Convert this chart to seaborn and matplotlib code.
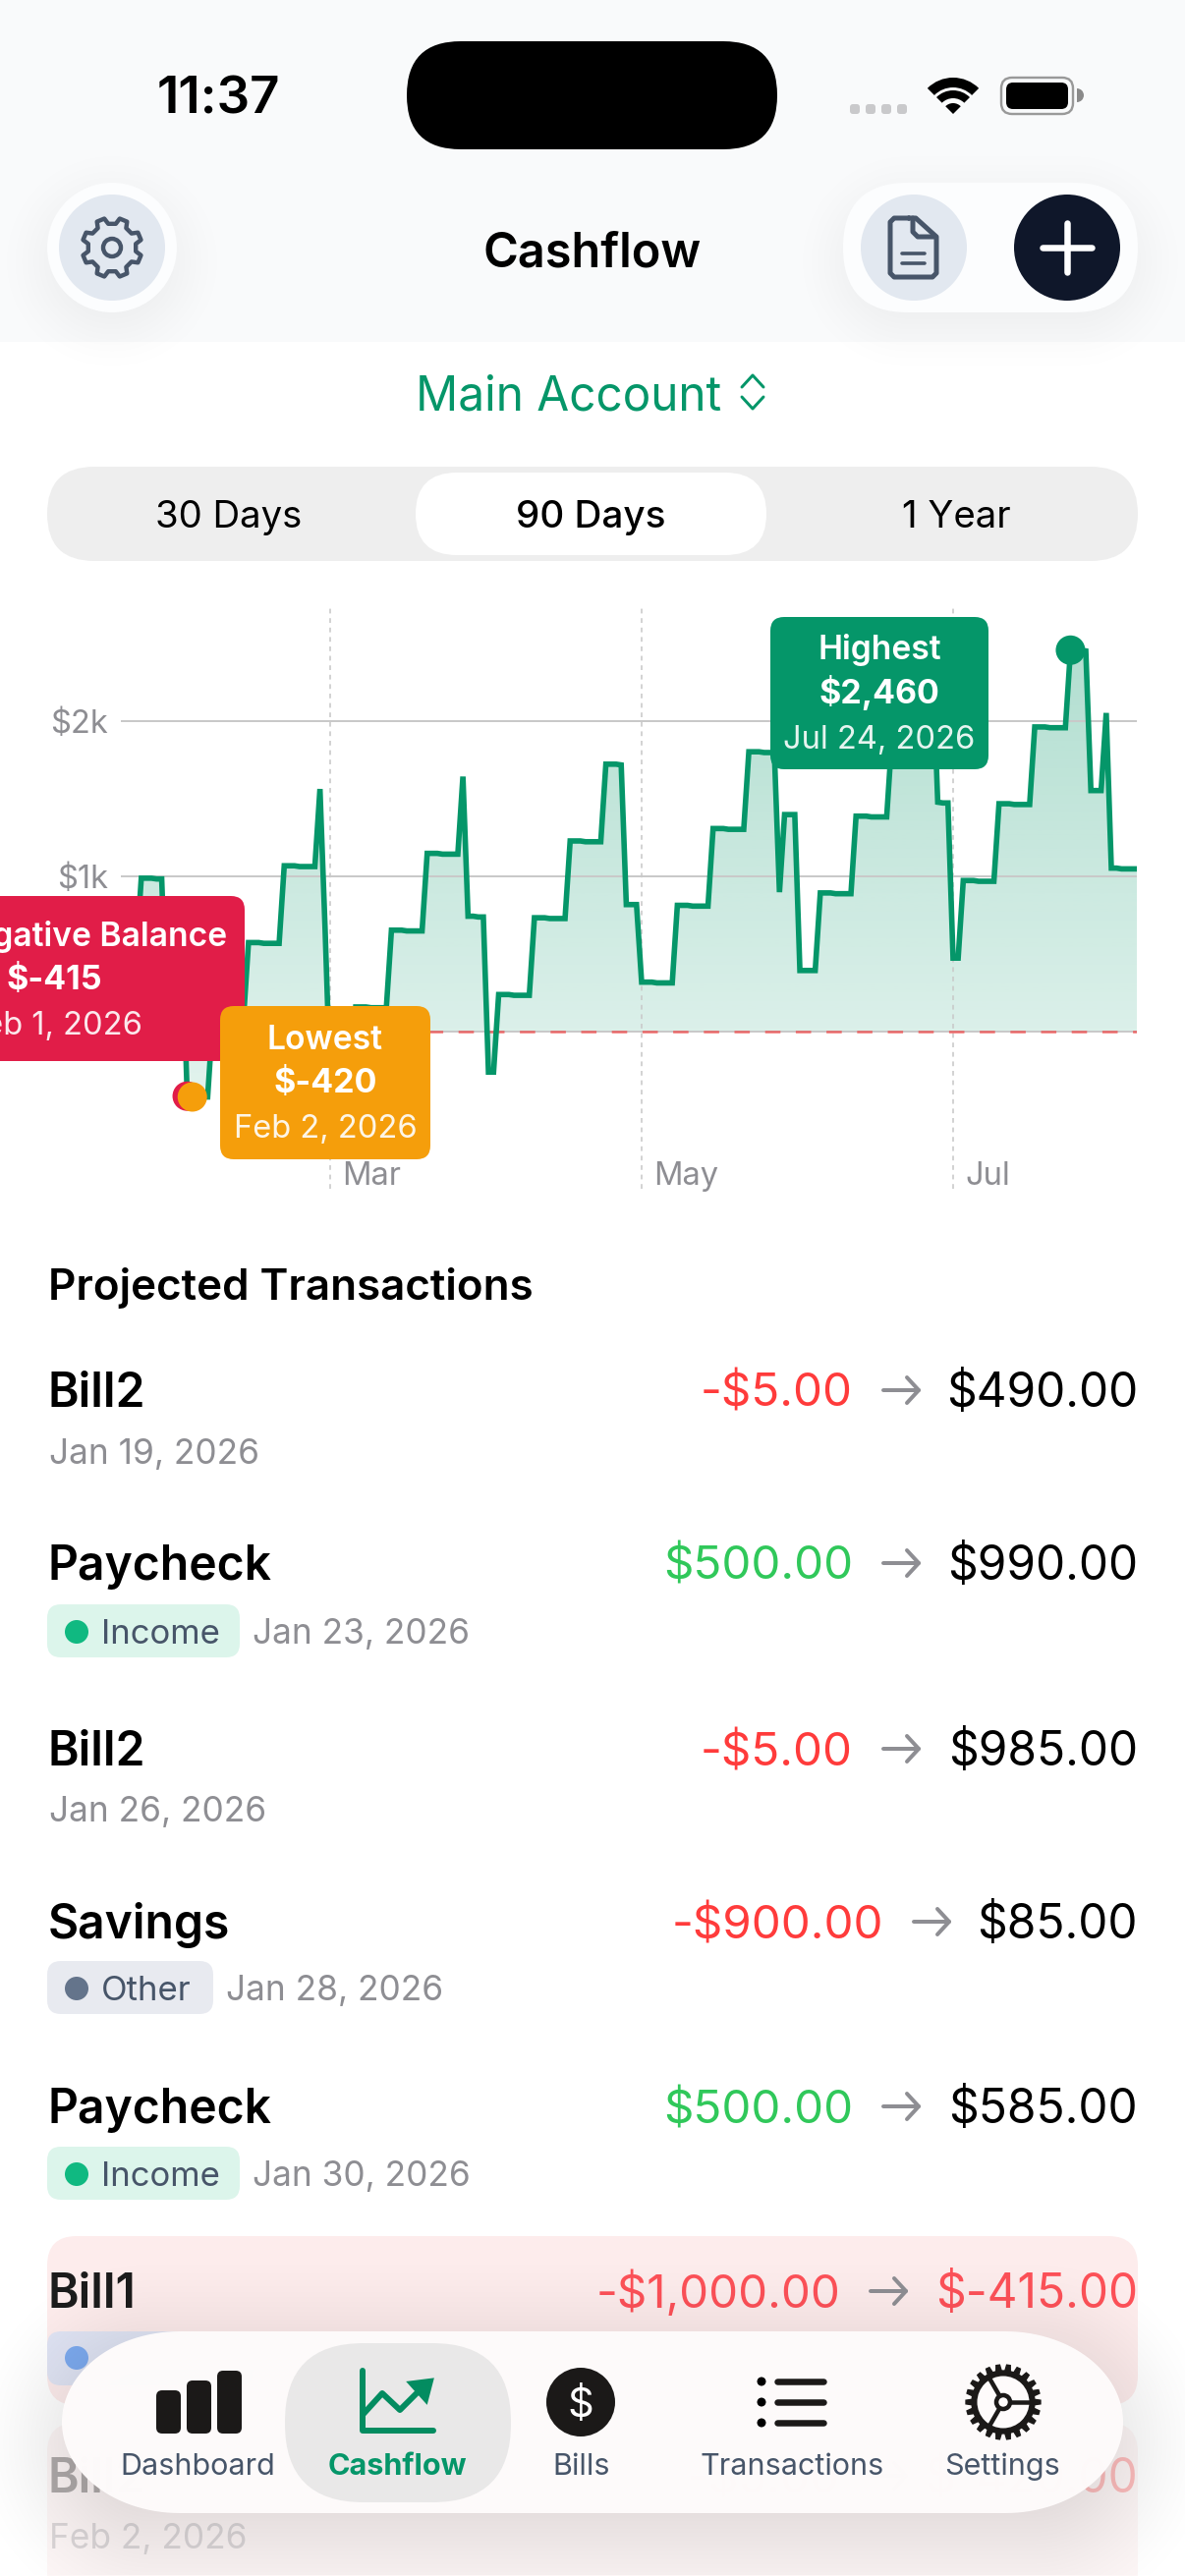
import numpy as np
import pandas as pd
import seaborn as sns
import matplotlib
matplotlib.use('Agg')
import matplotlib.pyplot as plt
import matplotlib.dates as mdates
from matplotlib.patches import FancyBboxPatch, Circle, Polygon, Wedge
from matplotlib.transforms import ScaledTranslation

# ---- chart data (one value per day from Jan 19) ----
start_date = '2026-01-19'
balance_jan = [490, 490, 490, 490, 990, 990, 990, 985, 985, 85, 85, 585, 585]
balance_feb = [-415, -420, -420, -420, -420, 80, 80, 80, 75, 75, 75, 75, 575, 575, 575,
               570, 570, 570, 570, 1070, 1070, 1070, 1065, 1065, 1065, 1065, 1565, 665]
balance_mar = [-335, -340, -340, -340, -340, 160, 160, 160, 155, 155, 155, 155, 655, 655, 655,
               650, 650, 650, 650, 1150, 1150, 1150, 1145, 1145, 1145, 1145, 1645, 745, 745, 740, 740]
balance_apr = [-260, -260, 240, 240, 240, 235, 235, 235, 235, 735, 735, 735, 730, 730, 730,
               730, 1230, 1230, 1230, 1225, 1225, 1225, 1225, 1725, 1725, 1725, 1720, 820, 820, 820]
balance_may = [320, 320, 320, 315, 315, 315, 315, 815, 815, 815, 810, 810, 810, 810, 1310,
               1310, 1310, 1305, 1305, 1305, 1305, 1805, 1805, 1805, 1800, 1800, 1800, 900, 1400, 1400, 1400]
balance_jun = [395, 395, 395, 395, 895, 895, 895, 890, 890, 890, 890, 1390, 1390, 1390, 1385,
               1385, 1385, 1385, 1885, 1885, 1885, 1880, 1880, 1880, 1880, 2380, 2380, 1480, 1475, 1475]
balance_jul = [475, 475, 975, 975, 975, 970, 970, 970, 970, 1470, 1470, 1470, 1465, 1465, 1465,
               1465, 1965, 1965, 1965, 1960, 1960, 1960, 1960, 2460, 2460, 2460, 2455, 1555, 1555, 1555, 2055]
balance_aug = [1055, 1055, 1050, 1050, 1050, 1050]

y_ticks = [0, 1000, 2000]
y_labels = ['$0', '$1k', '$2k']
month_ticks = ['2026-03-01', '2026-05-01', '2026-07-01']
month_labels = ['Mar', 'May', 'Jul']
marker_dates = ['2026-02-01', '2026-02-02', '2026-07-24']
marker_colors = ['#e11d48', '#f59e0b', '#059669']

# ---- the list under the chart ----
row_names = ['Bill2', 'Paycheck', 'Bill2', 'Savings', 'Paycheck', 'Bill1', 'Bill2']
row_dates = ['Jan 19, 2026', 'Jan 23, 2026', 'Jan 26, 2026', 'Jan 28, 2026', 'Jan 30, 2026', 'Feb 1, 2026', 'Feb 2, 2026']
row_amounts = ['-$5.00', '$500.00', '-$5.00', '-$900.00', '$500.00', '-$1,000.00', '-$5.00']
row_balances = ['$490.00', '$990.00', '$985.00', '$85.00', '$585.00', '$-415.00', '$-420.00']
row_tags = [None, 'Income', None, 'Other', 'Income', None, None]
tab_labels = ['Dashboard', 'Cashflow', 'Bills', 'Transactions', 'Settings']

sns.set_theme(style='white')
plt.rcParams['font.family'] = ['Inter', 'DejaVu Sans']

W, H = 1206, 2622
PX = 0.72  # one pixel in points at dpi 100
GREEN = '#059669'
GRAY = '#8e8e93'
SLATE = '#475569'
INK = '#1b1918'

fig = plt.figure(figsize=(W / 100, H / 100), dpi=100, facecolor='white')

# ---- chart ------------------------------------------------------------------
values = balance_jan + balance_feb + balance_mar + balance_apr + balance_may + balance_jun + balance_jul + balance_aug
df = pd.DataFrame({'date': pd.date_range(start_date, periods=len(values), freq='D'), 'balance': values})

chart_top, chart_bottom, zero_y, per_k = 616, 1210, 1050.2, 157.9
ax = fig.add_axes([123 / W, 1 - chart_bottom / H, (1157 - 123) / W, (chart_bottom - chart_top) / H], zorder=1)
ax.patch.set_alpha(0)
y_max = (zero_y - chart_top) / per_k * 1000
y_min = (zero_y - chart_bottom) / per_k * 1000

sns.lineplot(data=df, x='date', y='balance', ax=ax, color=GREEN, lw=5.6 * PX, zorder=4,
             solid_joinstyle='miter', solid_capstyle='butt', estimator=None, errorbar=None)

# area under the line, fades downwards
x_num = mdates.date2num(df['date'])
area = ax.fill_between(df['date'], 0, df['balance'], facecolor='none', edgecolor='none')
grad = np.zeros((256, 1, 4))
grad[:, 0, :3] = matplotlib.colors.to_rgb(GREEN)
grad[:, 0, 3] = np.linspace(0.115, 0.31, 256)
im = ax.imshow(grad, extent=[x_num[0], x_num[-1], -420, 2460], origin='lower', aspect='auto', zorder=1)
im.set_clip_path(area.get_paths()[0], transform=ax.transData)

# min / max / first negative dots
marks = df[df['date'].isin(pd.to_datetime(marker_dates))]
sns.scatterplot(data=marks, x='date', y='balance', hue='date', palette=marker_colors, s=(30 * PX) ** 2,
                linewidth=0, ax=ax, legend=False, zorder=5, clip_on=False)

ax.set_xlim(x_num[0], x_num[-1])
ax.set_ylim(y_min, y_max)
ax.set_yticks(y_ticks, y_labels)
ax.set_xticks(mdates.date2num(pd.to_datetime(month_ticks)), month_labels)
ax.set_xlabel('')
ax.set_ylabel('')
ax.tick_params(axis='y', length=0, pad=13 * PX, labelsize=23.5, labelcolor=GRAY)
ax.tick_params(axis='x', length=0, pad=-28 * PX, labelsize=23.5, labelcolor=GRAY)
for lab in ax.get_xticklabels():
    lab.set_ha('left')
    lab.set_transform(lab.get_transform() + ScaledTranslation(12 / 100, 0, fig.dpi_scale_trans))
ax.grid(axis='y', color='#c9c9c9', lw=2 * PX, zorder=2)
ax.grid(axis='x', color='#c9c9c9', lw=1.6 * PX, ls=(0, (3, 3)), zorder=2)
ax.set_axisbelow(False)
ax.axhline(0, color='#ef4444', alpha=0.72, lw=2.6 * PX, ls=(0, (6, 6)), zorder=3)
sns.despine(ax=ax, left=True, bottom=True)

# ---- everything else is drawn in screen pixels ------------------------------
ui = fig.add_axes([0, 0, 1, 1], zorder=2)
ui.patch.set_alpha(0)
ui.set_axis_off()


def rrect(x0, y0, x1, y1, r, fc, alpha=1, z=2, ec='none', lw=0):
    p = FancyBboxPatch((x0, y0), x1 - x0, y1 - y0, boxstyle=f'round,pad=0,rounding_size={r}',
                       fc=fc, ec=ec, lw=lw, alpha=alpha, zorder=z)
    ui.add_patch(p)
    return p


def pill(x0, y0, x1, y1, rx, fc, alpha=1, z=2):
    # the tab bar corners are longer than they are tall, so elliptical ends
    ry = (y1 - y0) / 2
    t = np.linspace(-np.pi / 2, np.pi / 2, 60)
    right = np.column_stack([x1 - rx + rx * np.cos(t), (y0 + y1) / 2 + ry * np.sin(t)])
    left = np.column_stack([x0 + rx - rx * np.cos(t), (y0 + y1) / 2 - ry * np.sin(t)])
    ui.add_patch(Polygon(np.vstack([right, left]), closed=True, fc=fc, ec='none', alpha=alpha, zorder=z))


def shadow(x0, y0, x1, y1, r, blur, alpha, dy=0, z=1):
    pad = int(blur * 1.5)
    xs = np.arange(x0 - pad, x1 + pad)
    ys = np.arange(y0 - pad + dy, min(y1 + pad + dy, H))
    X, Y = np.meshgrid(xs, ys)
    cx, cy = (x0 + x1) / 2, (y0 + y1) / 2 + dy
    qx = np.abs(X - cx) - (x1 - x0) / 2 + r
    qy = np.abs(Y - cy) - (y1 - y0) / 2 + r
    d = np.hypot(np.maximum(qx, 0), np.maximum(qy, 0)) + np.minimum(np.maximum(qx, qy), 0) - r
    s = np.clip((d + blur) / (2 * blur), 0, 1)
    img = np.zeros(X.shape + (4,))
    img[..., 3] = alpha * (1 - s * s * (3 - 2 * s))
    ui.imshow(img, extent=(xs[0], xs[-1], ys[-1], ys[0]), origin='upper', aspect='auto', zorder=z)


def txt(x, y, s, size, color='black', weight='normal', ha='left', alpha=1, z=5):
    ui.text(x, y, s, fontsize=size, color=color, fontweight=weight, ha=ha, va='baseline', alpha=alpha, zorder=z)


def stroke(xs, ys, color, w, z=5, alpha=1):
    ui.plot(xs, ys, color=color, lw=w * PX, solid_capstyle='round', solid_joinstyle='round', zorder=z, alpha=alpha)


def circle(x, y, r, fc, z=5, ec='none', lw=0):
    ui.add_patch(Circle((x, y), r, fc=fc, ec=ec, lw=lw * PX, zorder=z))


def cog(x, y, r_out, r_in, teeth, rot=0.0):
    pts = []
    for i in range(teeth):
        a = 2 * np.pi * i / teeth + rot
        st = 2 * np.pi / teeth
        for off, rad in [(-0.30, r_in), (-0.17, r_out), (0.17, r_out), (0.30, r_in)]:
            pts.append((x + rad * np.cos(a + off * st), y + rad * np.sin(a + off * st)))
    return pts


# header
ui.add_patch(plt.Rectangle((0, 0), W, 348, fc='#f9fafb', ec='none', zorder=0.5))
txt(222, 116, '11:37', 38, weight='semibold', ha='center')
rrect(414, 42, 791, 152, 55, 'black')
for x in [865, 881, 897, 913]:
    rrect(x, 106, x + 10, 116, 3, '#c9c9cb')
ui.add_patch(Wedge((970, 116), 37, 225, 315, width=10, fc='black', ec='none', zorder=5))
ui.add_patch(Wedge((970, 116), 24, 225, 315, width=8, fc='black', ec='none', zorder=5))
ui.add_patch(Wedge((970, 116), 11, 225, 315, fc='black', ec='none', zorder=5))
rrect(1019, 79, 1092, 116, 11, 'none', ec='#999999', lw=2.4 * PX)
rrect(1024, 84, 1087, 111, 7, 'black')
ui.add_patch(Wedge((1096, 97), 7, 270, 90, fc='#8a8a8a', ec='none', zorder=5))

shadow(48, 186, 180, 318, 66, 60, 0.06, dy=14)
shadow(858, 186, 1158, 318, 66, 60, 0.06, dy=14)
circle(114, 252, 66, '#fcfdfe', z=2)
circle(114, 252, 54, '#e2e8f0', z=3)
gear = cog(114, 252, 30.5, 24.5, 8, rot=np.pi / 8)
ui.add_patch(Polygon(gear, closed=True, fc='none', ec=SLATE, lw=4.4 * PX, joinstyle='round', zorder=5))
circle(114, 252, 9, 'none', ec=SLATE, lw=4.4)

rrect(858, 186, 1158, 318, 66, '#fcfdfe')
circle(930, 252, 54, '#e2e8f0', z=3)
stroke([925, 910, 906, 906, 910, 949, 953, 953, 932, 925], [222, 222, 226, 278, 282, 282, 278, 241, 222, 222], SLATE, 5)
stroke([929, 929, 934, 952], [222, 236, 241, 241], SLATE, 5)
stroke([918, 941], [258, 258], SLATE, 3.6)
stroke([918, 941], [268, 268], SLATE, 3.6)
circle(1086, 252, 54, '#0f172a', z=3)
stroke([1061, 1111], [252, 252], 'white', 6.5)
stroke([1086, 1086], [227, 277], 'white', 6.5)

txt(603, 271, 'Cashflow', 35, weight='semibold', ha='center')
txt(423, 417, 'Main Account', 34.4, color=GREEN)
stroke([755, 766, 777], [394, 382, 394], GREEN, 3)
stroke([755, 766, 777], [404, 416, 404], GREEN, 3)

# period switch
rrect(48, 475, 1158, 571, 48, '#eeeeee')
rrect(423, 481, 780, 565, 42, 'white', z=3)
txt(233, 537, '30 Days', 27.6, ha='center')
txt(601, 537, '90 Days', 27.8, weight='medium', ha='center')
txt(973, 537, '1 Year', 27.6, ha='center')

# tooltips
for x0, y0, x1, y1, fc, xc, top_x, lines in [
        (-139, 912, 249, 1080, '#e11d48', 55, 89, ('Negative Balance', '$-415', 'Feb 1, 2026')),
        (224, 1024, 438, 1180, '#f59e0b', 331, 331, ('Lowest', '$-420', 'Feb 2, 2026')),
        (784, 628, 1006, 783, '#059669', 895, 895, ('Highest', '$2,460', 'Jul 24, 2026'))]:
    rrect(x0, y0, x1, y1, 14, fc, z=3)
    base = y0 + (49 if y1 - y0 > 160 else 42)
    txt(top_x, base + 1.5, lines[0], 24.2, color='white', weight='semibold', ha='center')
    txt(xc, base + 46, lines[1], 24.5, color='white', weight='bold', ha='center')
    txt(xc, base + 92, lines[2], 23.5, color='white', ha='center', alpha=0.9)

# projected transactions
txt(49, 1323, 'Projected Transactions', 31.6, weight='semibold')
rrect(48, 2276, 1158, 2448, 30, '#fdecec', z=1)
rrect(48, 2466, 1158, 2700, 30, '#fdf6f6', z=1)

name_base = [1432, 1608, 1797, 1973, 2161, 2349, 2537]
date_base = [1490, 1673, 1854, 2036, 2225, 2413, 2594]
amount_right = [868, 868, 868, 899, 868, 855, 855]
amount_color = ['#ff3b3b', '#30c85a', '#ff3b3b', '#ff3b3b', '#30c85a', '#fd5158', '#ff3b3b']
balance_color = ['black', 'black', 'black', 'black', 'black', '#fd5158', '#ff3b3b']
tag_style = {'Income': ('#dcf5eb', '#10b981', 244, 257), 'Other': ('#e8eaf0', '#64748b', 217, 230)}

for i in range(len(row_names)):
    fade = 0.3 if i == 6 else 1
    name_col = '#1c1c1c' if i == 5 else 'black'
    txt(49, name_base[i], row_names[i], 34.6, color=name_col, weight='semibold', alpha=fade)
    x_date = 50
    tag = row_tags[i]
    if tag:
        fc, dot, x_end, x_date = tag_style[tag]
        rrect(48, date_base[i] - 40, x_end, date_base[i] + 14, 14, fc)
        circle(78, date_base[i] - 12, 12, dot)
        txt(103, date_base[i], tag, 25, color=SLATE)
    if i != 5:
        txt(x_date, date_base[i], row_dates[i], 25.4, color=GRAY, alpha=0.3 if i == 6 else 1)
    r = amount_right[i]
    txt(r, name_base[i], row_amounts[i], 34.2, color=amount_color[i], ha='right', alpha=fade)
    ay = name_base[i] - 17
    stroke([r + 31, r + 67], [ay, ay], GRAY, 4, alpha=fade)
    stroke([r + 55, r + 67, r + 55], [ay - 13, ay, ay + 13], GRAY, 4, alpha=fade)
    txt(1158, name_base[i], row_balances[i], 34.4, color=balance_color[i], ha='right', alpha=fade)

# chip of the Bill1 row, mostly behind the tab bar
rrect(48, 2373, 258, 2428, 14, '#e0e4f4', z=2)
circle(78, 2400, 12, '#7dabf0', z=3)

# tab bar
shadow(63, 2373, 1143, 2558, 92, 110, 0.15, dy=20, z=6)
pill(63, 2373, 1143, 2558, 120, '#fefbfb', alpha=0.985, z=7)
rrect(290, 2385, 520, 2547, 80, '#e9e8e8', z=8)

for x0, top in [(159, 2433), (190, 2423), (221, 2413)]:
    rrect(x0, top, x0 + 25, 2477, 6, INK, z=9)

ICON = '#038c60'
stroke([369, 369, 441], [2413, 2474, 2474], ICON, 6, z=9)
stroke([369, 389, 407, 428], [2458, 2436, 2453, 2432], ICON, 6, z=9)
ui.add_patch(Polygon([(440, 2422), (416, 2425), (434, 2445)], closed=True, fc=ICON, ec=ICON, lw=2, zorder=9))

circle(591, 2445, 35, INK, z=9)
txt(591, 2460, '$', 30, color='white', ha='center', z=10)

for y in [2424, 2445, 2466]:
    circle(775, y, 4.5, 'black', z=9)
    stroke([791, 838], [y, y], INK, 6.5, z=9)

ui.add_patch(Polygon(cog(1021, 2445, 38, 32, 22), closed=True, fc=INK, ec=INK, lw=1, zorder=9))
circle(1021, 2445, 26.5, '#fefbfb', z=10)
for ang in [0, 120, 240]:
    a = np.deg2rad(ang)
    stroke([1021, 1021 + 29 * np.cos(a)], [2445, 2445 + 29 * np.sin(a)], INK, 4.5, z=10)
circle(1021, 2445, 7, '#fefbfb', z=11, ec=INK, lw=4.5)

tab_x = [201, 404, 592, 806, 1020]
for x, label in zip(tab_x, tab_labels):
    if label == 'Cashflow':
        txt(x, 2519, label, 22, color=GREEN, weight='bold', ha='center', z=11)
    else:
        txt(x, 2519, label, 22, color=SLATE, ha='center', z=11)

ui.set_xlim(0, W)
ui.set_ylim(H, 0)

fig.savefig('out.png', dpi=100)
